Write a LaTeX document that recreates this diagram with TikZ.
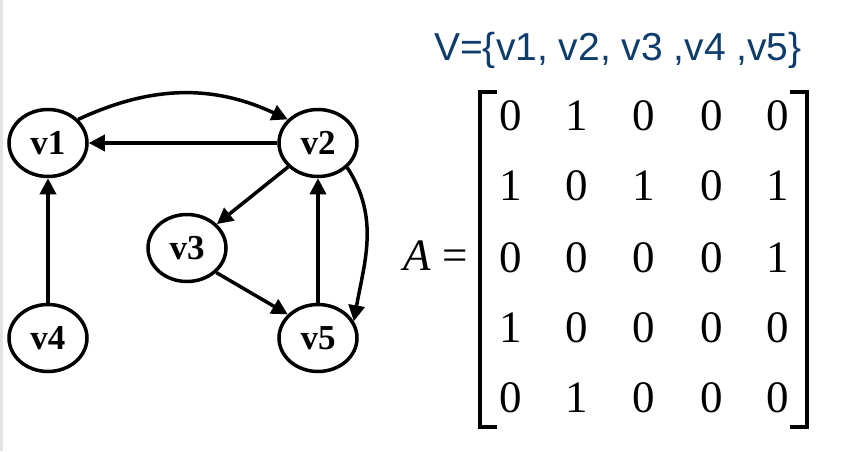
\documentclass[tikz,border=0pt]{standalone}
\usepackage{fontspec}
\setmainfont{Liberation Serif}
\newfontfamily\arialf{Liberation Sans}
\usetikzlibrary{arrows.meta,shapes.geometric}
\definecolor{navy}{RGB}{14,61,107}
\tikzset{
  vert/.style={draw,ellipse,line width=3.5pt,minimum width=78pt,minimum height=67pt,inner sep=0pt,
    font=\fontsize{35}{40}\selectfont\bfseries},
  edge/.style={line width=3.5pt,-{Triangle[length=16pt,width=16pt]}},
  ent/.style={anchor=base,inner sep=0pt,font=\fontsize{45}{50}\selectfont},
  brk/.style={line width=3.2pt,line cap=rect}
}
\begin{document}
\begin{tikzpicture}[x=1pt,y=-1pt]
\useasboundingbox (0,0) rectangle (847,451);
\fill[gray!22] (0,0) rectangle (3,451);
% graph
\node[vert] (v1) at (48,143) {v1};
\node[vert] (v2) at (318,143) {v2};
\node[vert] (v3) at (187,248) {v3};
\node[vert] (v4) at (48,338) {v4};
\node[vert] (v5) at (318,338) {v5};
\draw[edge] (v2) -- (v1);
\draw[edge] (v1.38) to[out=25,in=155] (v2.142);
\draw[edge] (v2) -- (v3);
\draw[edge] (v3.-40) -- (v5.142);
\draw[edge] (v5) -- (v2);
\draw[edge] (v4) -- (v1);
\draw[edge] (v2.-40) to[out=-57,in=80] (v5.25);
% title
\node[anchor=base west,inner sep=0pt,text=navy,font=\arialf\fontsize{39}{44}\selectfont] (title) at (434,60) {V=\{v1, v2, v3 ,v4 ,v5\}};
% matrix
\node[ent,font=\fontsize{45}{50}\selectfont\itshape] (A) at (417,270) {A};
\node[ent] (eq) at (455,270) {=};
\coordinate (lt) at (495,92);
\coordinate (lb) at (495,427);
\coordinate (rt) at (792,92);
\coordinate (rb) at (792,427);
\draw[brk] (lt) -- ++(-15,0) |- (lb);
\draw[brk] (rt) -- ++(15,0) |- (rb);
\foreach \r/\y/\a/\b/\c/\d/\e in {1/130/0/1/0/0/0, 2/200/1/0/1/0/1, 3/272/0/0/0/0/1, 4/342/1/0/0/0/0, 5/412/0/1/0/0/0}{
  \node[ent] (m\r c1) at (511,\y) {\a};
  \node[ent] (m\r c2) at (577,\y) {\b};
  \node[ent] (m\r c3) at (644,\y) {\c};
  \node[ent] (m\r c4) at (712,\y) {\d};
  \node[ent] (m\r c5) at (778,\y) {\e};
}
\end{tikzpicture}
\end{document}
